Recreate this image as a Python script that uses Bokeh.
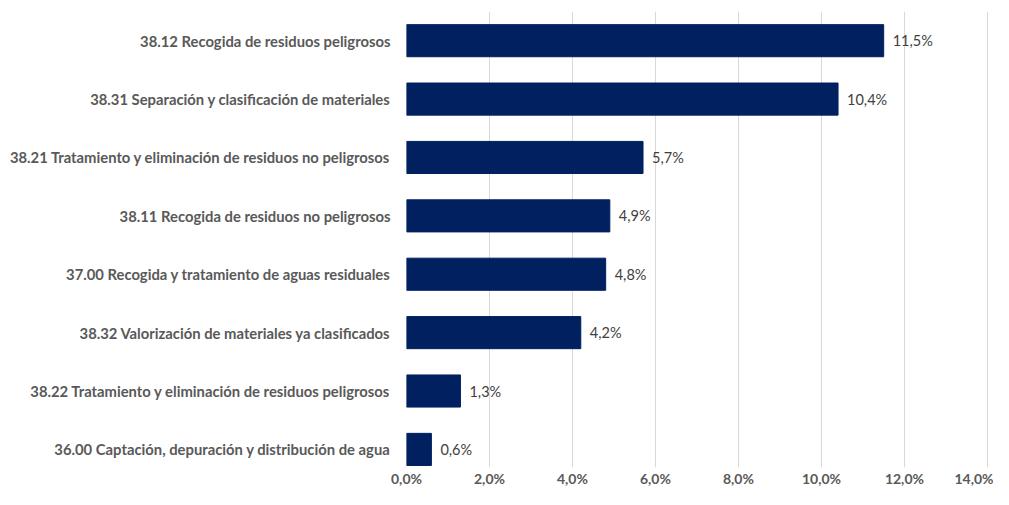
from bokeh.plotting import figure
from bokeh.models import ColumnDataSource, Range1d, FixedTicker, CustomJSTickFormatter
from bokeh.core.properties import value
from bokeh.embed import file_html
from bokeh.resources import INLINE

categories = [
    "38.12 Recogida de residuos peligrosos",
    "38.31 Separación y clasificación de materiales",
    "38.21 Tratamiento y eliminación de residuos no peligrosos",
    "38.11 Recogida de residuos no peligrosos",
    "37.00 Recogida y tratamiento de aguas residuales",
    "38.32 Valorización de materiales ya clasificados",
    "38.22 Tratamiento y eliminación de residuos peligrosos",
    "36.00 Captación, depuración y distribución de agua",
]
values = [11.5, 10.4, 5.7, 4.9, 4.8, 4.2, 1.3, 0.6]
x_ticks = [0, 2, 4, 6, 8, 10, 12, 14]

pos = list(range(len(categories)))
labels = [f"{v:.1f}".replace(".", ",") + "%" for v in values]
src = ColumnDataSource(dict(pos=pos, cat=categories, val=values, lab=labels))

FONT = "Lato"
p = figure(
    width=993, height=489,
    y_range=Range1d(7.31, -0.5),
    x_range=Range1d(0, 14.05),
    output_backend="svg", toolbar_location=None,
    min_border_left=406, min_border_right=4, min_border_top=11, min_border_bottom=10,
)
p.hbar(y="pos", right="val", left=0, height=0.55, color="#002060", source=src)
p.text(x="val", y="pos", text="lab", source=src, x_offset=9,
       text_align="left", text_baseline="middle",
       text_font_size="14.5px", text_color="#404040", text_font=value(FONT))

p.outline_line_color = None
p.ygrid.grid_line_color = None
p.xgrid.grid_line_color = "#D9D9D9"
p.xgrid.grid_line_width = 1

p.xaxis.ticker = FixedTicker(ticks=x_ticks)
p.xaxis.formatter = CustomJSTickFormatter(code="return tick.toFixed(1).replace('.', ',') + '%';")
p.yaxis.ticker = FixedTicker(ticks=pos)
p.yaxis.major_label_overrides = {i: c for i, c in zip(pos, categories)}
for ax in (p.xaxis[0], p.yaxis[0]):
    ax.axis_line_color = None
    ax.major_tick_line_color = None
    ax.minor_tick_line_color = None
    ax.major_tick_out = 0
    ax.major_tick_in = 0
    ax.minor_tick_out = 0
    ax.minor_tick_in = 0
    ax.major_label_text_color = "#595959"
    ax.major_label_text_font = FONT
    ax.major_label_text_font_style = "bold"
    ax.major_label_text_font_size = "14.8px"
p.xaxis.major_label_text_font_size = "14px"
p.xaxis.major_label_standoff = 2
p.yaxis.major_label_standoff = 16

open("out.html", "w").write(file_html(p, INLINE))
